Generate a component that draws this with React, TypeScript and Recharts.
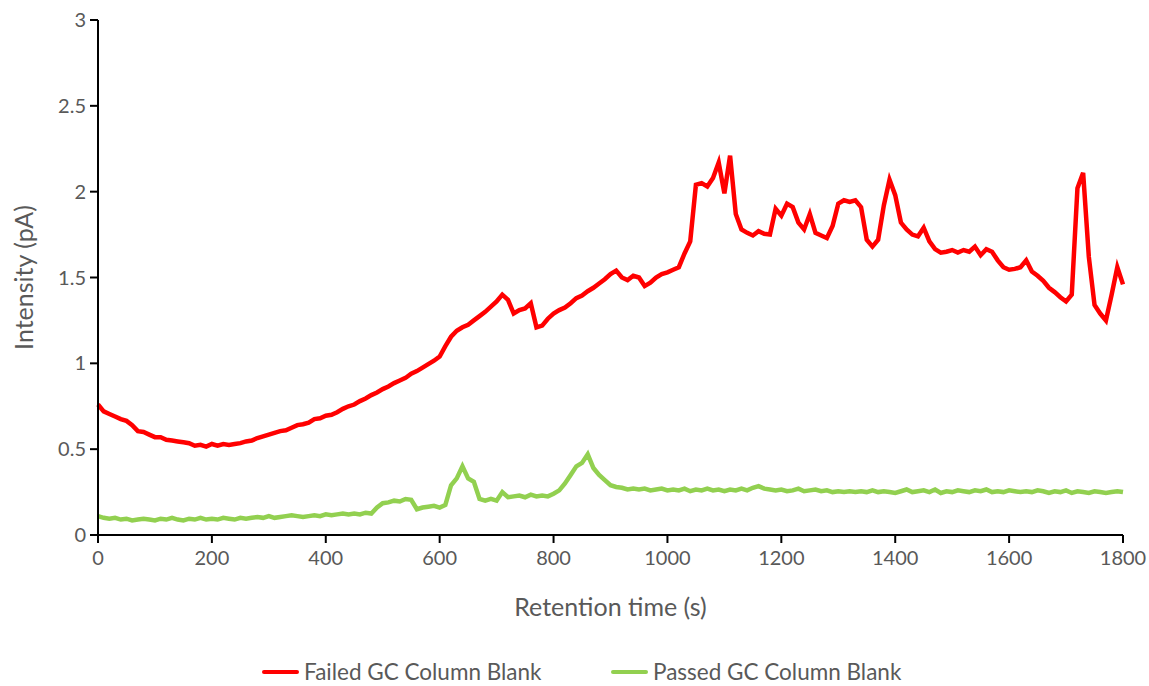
import React from "react";
import { LineChart, Line, XAxis, YAxis } from "recharts";

if (typeof document !== "undefined") {
  document.body.style.margin = "0";
}

const STEP = 10;
const failedBlank = [
  0.76, 0.72, 0.705, 0.69, 0.675, 0.665, 0.64, 0.605, 0.6, 0.585,
  0.57, 0.57, 0.555, 0.55, 0.545, 0.54, 0.535, 0.52, 0.525, 0.515,
  0.53, 0.52, 0.53, 0.525, 0.53, 0.535, 0.545, 0.55, 0.565, 0.575,
  0.585, 0.595, 0.605, 0.61, 0.625, 0.64, 0.645, 0.655, 0.675, 0.68,
  0.695, 0.7, 0.715, 0.735, 0.75, 0.76, 0.78, 0.795, 0.815, 0.83,
  0.85, 0.865, 0.885, 0.9, 0.915, 0.94, 0.955, 0.975, 0.995, 1.015,
  1.04, 1.1, 1.155, 1.19, 1.21, 1.225, 1.25, 1.275, 1.3, 1.33,
  1.36, 1.4, 1.37, 1.29, 1.31, 1.32, 1.35, 1.21, 1.22, 1.26,
  1.29, 1.31, 1.325, 1.35, 1.38, 1.395, 1.42, 1.44, 1.465, 1.49,
  1.52, 1.54, 1.5, 1.485, 1.51, 1.5, 1.45, 1.47, 1.5, 1.52,
  1.53, 1.545, 1.56, 1.64, 1.71, 2.04, 2.05, 2.03, 2.08, 2.17,
  1.99, 2.21, 1.87, 1.78, 1.76, 1.745, 1.77, 1.755, 1.75, 1.9,
  1.86, 1.93, 1.91, 1.82, 1.78, 1.87, 1.76, 1.745, 1.73, 1.8,
  1.93, 1.95, 1.94, 1.95, 1.91, 1.72, 1.68, 1.72, 1.92, 2.07,
  1.98, 1.82, 1.78, 1.75, 1.74, 1.79, 1.71, 1.665, 1.645, 1.65,
  1.66, 1.645, 1.66, 1.65, 1.68, 1.63, 1.665, 1.65, 1.6, 1.56,
  1.545, 1.55, 1.56, 1.6, 1.535, 1.51, 1.48, 1.44, 1.415, 1.385,
  1.36, 1.4, 2.02, 2.11, 1.62, 1.34, 1.29, 1.25, 1.4, 1.56,
  1.46,
];
const passedBlank = [
  0.11, 0.1, 0.095, 0.1, 0.09, 0.095, 0.085, 0.09, 0.095, 0.09,
  0.085, 0.095, 0.09, 0.1, 0.09, 0.085, 0.095, 0.09, 0.1, 0.09,
  0.095, 0.09, 0.1, 0.095, 0.09, 0.1, 0.095, 0.1, 0.105, 0.1,
  0.11, 0.1, 0.105, 0.11, 0.115, 0.11, 0.105, 0.11, 0.115, 0.11,
  0.12, 0.115, 0.12, 0.125, 0.12, 0.125, 0.12, 0.13, 0.125, 0.16,
  0.185, 0.19, 0.2, 0.195, 0.21, 0.205, 0.15, 0.16, 0.165, 0.17,
  0.16, 0.175, 0.29, 0.33, 0.4, 0.33, 0.31, 0.21, 0.2, 0.21,
  0.2, 0.25, 0.22, 0.225, 0.23, 0.22, 0.235, 0.225, 0.23, 0.225,
  0.24, 0.26, 0.3, 0.35, 0.4, 0.42, 0.47, 0.39, 0.35, 0.32,
  0.29, 0.28, 0.275, 0.265, 0.27, 0.265, 0.27, 0.26, 0.265, 0.27,
  0.26, 0.265, 0.26, 0.27, 0.255, 0.265, 0.26, 0.27, 0.26, 0.265,
  0.255, 0.265, 0.26, 0.27, 0.26, 0.275, 0.285, 0.27, 0.265, 0.26,
  0.265, 0.255, 0.26, 0.27, 0.255, 0.26, 0.265, 0.255, 0.26, 0.25,
  0.255, 0.25, 0.255, 0.25, 0.255, 0.25, 0.26, 0.25, 0.255, 0.25,
  0.245, 0.255, 0.265, 0.25, 0.255, 0.26, 0.25, 0.265, 0.245, 0.255,
  0.25, 0.26, 0.255, 0.25, 0.26, 0.255, 0.265, 0.25, 0.255, 0.25,
  0.26, 0.255, 0.25, 0.255, 0.25, 0.26, 0.255, 0.245, 0.255, 0.25,
  0.26, 0.245, 0.255, 0.25, 0.245, 0.255, 0.25, 0.245, 0.25, 0.255,
  0.25,
];
const xTicks = [0, 200, 400, 600, 800, 1000, 1200, 1400, 1600, 1800];
const yTicks = [0, 0.5, 1, 1.5, 2, 2.5, 3];
const seriesNames = ["Failed GC Column Blank", "Passed GC Column Blank"];
const seriesColors = ["#FF0000", "#92D050"];

const data = failedBlank.map((v, i) => ({
  t: i * STEP,
  failed: v,
  passed: passedBlank[i],
}));

const FONT = "Lato, 'Open Sans', sans-serif";
const TXT = "#595959";

export default function App() {
  return (
    <div style={{ position: "relative", width: 1149, height: 686, fontFamily: FONT, overflow: "hidden" }}>
      <div style={{ position: "absolute", left: 8, top: 8 }}>
        <LineChart
          width={1141}
          height={660}
          data={data}
          margin={{ top: 12, right: 26, left: 0, bottom: 43 }}
          style={{ overflow: "visible" }}
        >
          <XAxis
            dataKey="t"
            type="number"
            domain={[0, 1800]}
            ticks={xTicks}
            height={90}
            tickSize={8}
            tickMargin={8}
            axisLine={{ stroke: "#000", strokeWidth: 2 }}
            tickLine={{ stroke: "#000", strokeWidth: 2 }}
            tick={{ fill: TXT, fontSize: 20, fontFamily: FONT }}
            label={{
              value: "Retention time (s)",
              position: "insideBottom",
              offset: 9,
              fill: TXT,
              fontSize: 25,
              fontFamily: FONT,
            }}
          />
          <YAxis
            type="number"
            domain={[0, 3]}
            ticks={yTicks}
            width={90}
            tickSize={8}
            tickMargin={4}
            axisLine={{ stroke: "#000", strokeWidth: 2 }}
            tickLine={{ stroke: "#000", strokeWidth: 2 }}
            tick={{ fill: TXT, fontSize: 20, fontFamily: FONT }}
            label={{
              value: "Intensity (pA)",
              angle: -90,
              position: "insideLeft",
              offset: 16,
              fill: TXT,
              fontSize: 25,
              fontFamily: FONT,
              style: { textAnchor: "middle" },
            }}
          />
          <Line
            type="linear"
            dataKey="passed"
            stroke={seriesColors[1]}
            strokeWidth={4.5}
            dot={false}
            isAnimationActive={false}
          />
          <Line
            type="linear"
            dataKey="failed"
            stroke={seriesColors[0]}
            strokeWidth={4.5}
            dot={false}
            isAnimationActive={false}
          />
        </LineChart>
        {[254, 603].map((left, i) => (
          <div
            key={i}
            style={{
              position: "absolute",
              left,
              top: 653,
              height: 22,
              lineHeight: "22px",
              display: "flex",
              alignItems: "center",
              whiteSpace: "nowrap",
            }}
          >
            <div style={{ width: 37, height: 3.5, background: seriesColors[i], marginRight: 5, borderRadius: 2 }} />
            <span style={{ color: TXT, fontSize: 22.5, fontFamily: FONT, lineHeight: "22px" }}>{seriesNames[i]}</span>
          </div>
        ))}
      </div>
    </div>
  );
}
